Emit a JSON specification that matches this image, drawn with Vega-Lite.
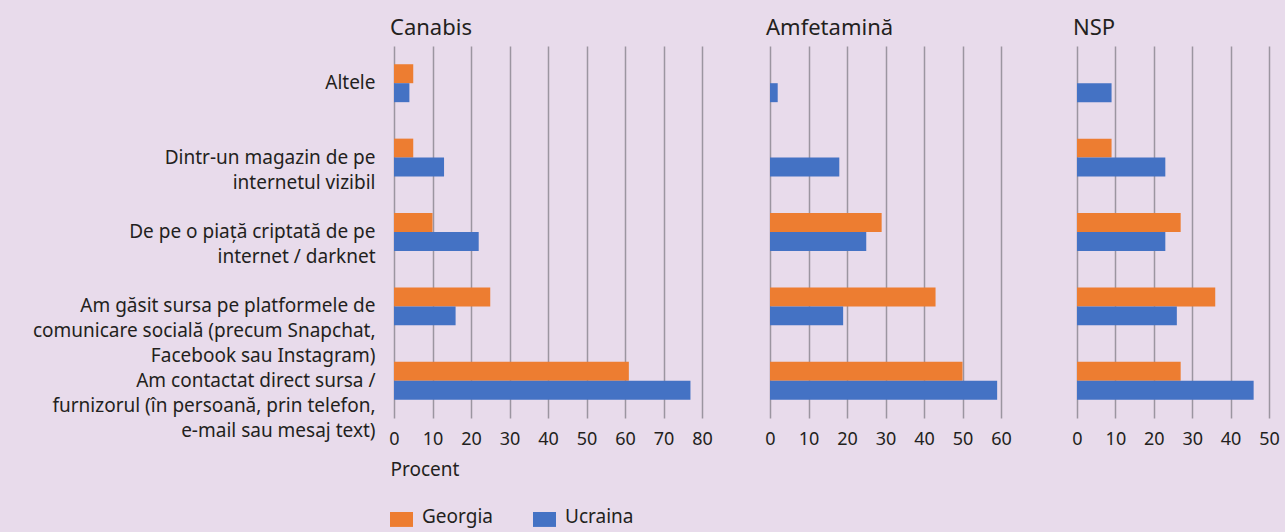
{
  "$schema": "https://vega.github.io/schema/vega-lite/v6.json",
  "background": "#e8dbeb",
  "padding": {"left": 32, "top": 17, "right": 5, "bottom": 6},
  "config": {
    "view": {"stroke": null},
    "font": "Noto Sans",
    "axis": {"labelColor": "#231f20", "titleColor": "#231f20"},
    "title": {"color": "#231f20"}
  },
  "data": {
    "values": [
      {"drug": "Canabis", "src": "Altele", "country": "Georgia", "v": 5},
      {"drug": "Canabis", "src": "Altele", "country": "Ucraina", "v": 4},
      {"drug": "Canabis", "src": "Dintr-un magazin de pe|internetul vizibil", "country": "Georgia", "v": 5},
      {"drug": "Canabis", "src": "Dintr-un magazin de pe|internetul vizibil", "country": "Ucraina", "v": 13},
      {"drug": "Canabis", "src": "De pe o piață criptată de pe|internet / darknet", "country": "Georgia", "v": 10},
      {"drug": "Canabis", "src": "De pe o piață criptată de pe|internet / darknet", "country": "Ucraina", "v": 22},
      {"drug": "Canabis", "src": "Am găsit sursa pe platformele de|comunicare socială (precum Snapchat,|Facebook sau Instagram)", "country": "Georgia", "v": 25},
      {"drug": "Canabis", "src": "Am găsit sursa pe platformele de|comunicare socială (precum Snapchat,|Facebook sau Instagram)", "country": "Ucraina", "v": 16},
      {"drug": "Canabis", "src": "Am contactat direct sursa /|furnizorul (în persoană, prin telefon,|e-mail sau mesaj text)", "country": "Georgia", "v": 61},
      {"drug": "Canabis", "src": "Am contactat direct sursa /|furnizorul (în persoană, prin telefon,|e-mail sau mesaj text)", "country": "Ucraina", "v": 77},
      {"drug": "Amfetamină", "src": "Altele", "country": "Ucraina", "v": 2},
      {"drug": "Amfetamină", "src": "Dintr-un magazin de pe|internetul vizibil", "country": "Ucraina", "v": 18},
      {"drug": "Amfetamină", "src": "De pe o piață criptată de pe|internet / darknet", "country": "Georgia", "v": 29},
      {"drug": "Amfetamină", "src": "De pe o piață criptată de pe|internet / darknet", "country": "Ucraina", "v": 25},
      {"drug": "Amfetamină", "src": "Am găsit sursa pe platformele de|comunicare socială (precum Snapchat,|Facebook sau Instagram)", "country": "Georgia", "v": 43},
      {"drug": "Amfetamină", "src": "Am găsit sursa pe platformele de|comunicare socială (precum Snapchat,|Facebook sau Instagram)", "country": "Ucraina", "v": 19},
      {"drug": "Amfetamină", "src": "Am contactat direct sursa /|furnizorul (în persoană, prin telefon,|e-mail sau mesaj text)", "country": "Georgia", "v": 50},
      {"drug": "Amfetamină", "src": "Am contactat direct sursa /|furnizorul (în persoană, prin telefon,|e-mail sau mesaj text)", "country": "Ucraina", "v": 59},
      {"drug": "NSP", "src": "Altele", "country": "Ucraina", "v": 9},
      {"drug": "NSP", "src": "Dintr-un magazin de pe|internetul vizibil", "country": "Georgia", "v": 9},
      {"drug": "NSP", "src": "Dintr-un magazin de pe|internetul vizibil", "country": "Ucraina", "v": 23},
      {"drug": "NSP", "src": "De pe o piață criptată de pe|internet / darknet", "country": "Georgia", "v": 27},
      {"drug": "NSP", "src": "De pe o piață criptată de pe|internet / darknet", "country": "Ucraina", "v": 23},
      {"drug": "NSP", "src": "Am găsit sursa pe platformele de|comunicare socială (precum Snapchat,|Facebook sau Instagram)", "country": "Georgia", "v": 36},
      {"drug": "NSP", "src": "Am găsit sursa pe platformele de|comunicare socială (precum Snapchat,|Facebook sau Instagram)", "country": "Ucraina", "v": 26},
      {"drug": "NSP", "src": "Am contactat direct sursa /|furnizorul (în persoană, prin telefon,|e-mail sau mesaj text)", "country": "Georgia", "v": 27},
      {"drug": "NSP", "src": "Am contactat direct sursa /|furnizorul (în persoană, prin telefon,|e-mail sau mesaj text)", "country": "Ucraina", "v": 46}
    ]
  },
  "spacing": 68,
  "bounds": "flush",
  "hconcat": [
    {
      "width": 308,
      "height": 372,
      "title": {"text": "Canabis", "anchor": "start", "frame": "group", "fontSize": 22, "fontWeight": "normal", "offset": 6, "dx": -4},
      "transform": [{"filter": "datum.drug == 'Canabis'"}],
      "mark": {"type": "bar"},
      "encoding": {
        "y": {
          "field": "src", "type": "nominal", "title": null,
          "scale": {"domain": ["Altele", "Dintr-un magazin de pe|internetul vizibil", "De pe o piață criptată de pe|internet / darknet", "Am găsit sursa pe platformele de|comunicare socială (precum Snapchat,|Facebook sau Instagram)", "Am contactat direct sursa /|furnizorul (în persoană, prin telefon,|e-mail sau mesaj text)"], "paddingInner": 0.49, "paddingOuter": 0.245},
          "axis": {"domain": false, "ticks": false, "labelExpr": "split(datum.label, '|')", "labelFontSize": 19, "labelLineHeight": 25, "labelPadding": 19, "labelLimit": 0, "grid": false}
        },
        "yOffset": {"field": "country", "type": "nominal", "scale": {"domain": ["Georgia", "Ucraina"]}},
        "x": {
          "field": "v", "type": "quantitative",
          "scale": {"domain": [0, 80], "nice": false},
          "axis": {"values": [0, 10, 20, 30, 40, 50, 60, 70, 80], "domain": false, "ticks": false, "grid": true, "gridColor": "#9b95a0", "gridWidth": 1.5, "labelFontSize": 18, "labelPadding": 12, "labelFlush": false, "title": "Procent", "titleAnchor": "start", "titleAlign": "left", "titleFontWeight": "normal", "titleFontSize": 19, "titlePadding": 12, "titleX": -4}
        },
        "color": {
          "field": "country", "type": "nominal",
          "scale": {"domain": ["Georgia", "Ucraina"], "range": ["#ed7d31", "#4472c4"]},
          "legend": {"title": null, "orient": "none", "direction": "horizontal", "legendX": -4, "legendY": 459, "symbolType": "M-1,-0.4H1V0.9H-1Z", "symbolSize": 529, "symbolStrokeWidth": 0, "symbolOpacity": 1, "labelFontSize": 19, "labelOffset": 9, "columnPadding": 40, "labelColor": "#231f20"}
        }
      }
    },
    {
      "spacing": 76,
      "bounds": "flush",
      "hconcat": [
        {
          "width": 231,
          "height": 372,
          "title": {"text": "Amfetamină", "anchor": "start", "frame": "group", "fontSize": 22, "fontWeight": "normal", "offset": 6, "dx": -4},
          "transform": [{"filter": "datum.drug == 'Amfetamină'"}],
          "mark": {"type": "bar"},
          "encoding": {
            "y": {
              "field": "src", "type": "nominal", "title": null,
              "scale": {"domain": ["Altele", "Dintr-un magazin de pe|internetul vizibil", "De pe o piață criptată de pe|internet / darknet", "Am găsit sursa pe platformele de|comunicare socială (precum Snapchat,|Facebook sau Instagram)", "Am contactat direct sursa /|furnizorul (în persoană, prin telefon,|e-mail sau mesaj text)"], "paddingInner": 0.49, "paddingOuter": 0.245},
              "axis": null
            },
            "yOffset": {"field": "country", "type": "nominal", "scale": {"domain": ["Georgia", "Ucraina"]}},
            "x": {
              "field": "v", "type": "quantitative",
              "scale": {"domain": [0, 60], "nice": false},
              "axis": {"values": [0, 10, 20, 30, 40, 50, 60], "domain": false, "ticks": false, "grid": true, "gridColor": "#9b95a0", "gridWidth": 1.5, "labelFontSize": 18, "labelPadding": 12, "labelFlush": false, "title": null}
            },
            "color": {"field": "country", "type": "nominal", "scale": {"domain": ["Georgia", "Ucraina"], "range": ["#ed7d31", "#4472c4"]}, "legend": null}
          }
        },
        {
          "width": 192,
          "height": 372,
          "title": {"text": "NSP", "anchor": "start", "frame": "group", "fontSize": 22, "fontWeight": "normal", "offset": 6, "dx": -4},
          "transform": [{"filter": "datum.drug == 'NSP'"}],
          "mark": {"type": "bar"},
          "encoding": {
            "y": {
              "field": "src", "type": "nominal", "title": null,
              "scale": {"domain": ["Altele", "Dintr-un magazin de pe|internetul vizibil", "De pe o piață criptată de pe|internet / darknet", "Am găsit sursa pe platformele de|comunicare socială (precum Snapchat,|Facebook sau Instagram)", "Am contactat direct sursa /|furnizorul (în persoană, prin telefon,|e-mail sau mesaj text)"], "paddingInner": 0.49, "paddingOuter": 0.245},
              "axis": null
            },
            "yOffset": {"field": "country", "type": "nominal", "scale": {"domain": ["Georgia", "Ucraina"]}},
            "x": {
              "field": "v", "type": "quantitative",
              "scale": {"domain": [0, 50], "nice": false},
              "axis": {"values": [0, 10, 20, 30, 40, 50], "domain": false, "ticks": false, "grid": true, "gridColor": "#9b95a0", "gridWidth": 1.5, "labelFontSize": 18, "labelPadding": 12, "labelFlush": false, "title": null}
            },
            "color": {"field": "country", "type": "nominal", "scale": {"domain": ["Georgia", "Ucraina"], "range": ["#ed7d31", "#4472c4"]}, "legend": null}
          }
        }
      ]
    }
  ],
  "resolve": {"scale": {"x": "independent", "y": "independent", "yOffset": "independent"}}
}
